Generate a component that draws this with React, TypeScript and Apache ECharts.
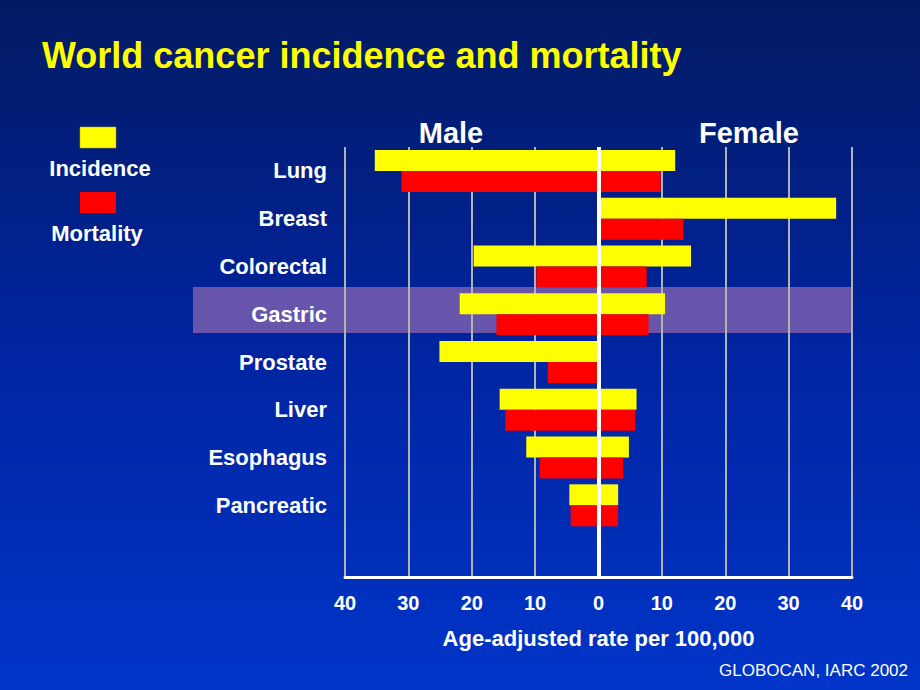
import React, { useEffect, useRef } from "react";
import * as echarts from "echarts";

// Categories (last empty slot leaves room above the axis, as in the slide)
const categories = ["Lung", "Breast", "Colorectal", "Gastric", "Prostate", "Liver", "Esophagus", "Pancreatic", ""];
// Age-adjusted rates per 100,000 (GLOBOCAN 2002)
const maleIncidence = [35.3, null, 19.7, 21.9, 25.1, 15.6, 11.4, 4.6, null];
const maleMortality = [31.1, null, 9.8, 16.1, 8.0, 14.7, 9.3, 4.4, null];
const femaleIncidence = [12.1, 37.5, 14.6, 10.5, null, 6.0, 4.8, 3.1, null];
const femaleMortality = [9.8, 13.4, 7.6, 7.9, null, 5.8, 3.9, 3.1, null];

const axisMin = -40;
const axisMax = 40;
const axisStep = 10;

const FONT = "'Liberation Sans', Arial, Helvetica, sans-serif";

export default function App() {
  const ref = useRef<HTMLDivElement>(null);

  useEffect(() => {
    if (!ref.current) return;
    const chart = echarts.init(ref.current, undefined, { renderer: "svg" });
    const neg = (arr: (number | null)[]) => arr.map((v) => (v == null ? null : -v));

    const option: any = {
      animation: false,
      backgroundColor: "transparent",
      textStyle: { fontFamily: FONT },
      grid: { left: 345, right: 68, top: 147, bottom: 113, containLabel: false },
      xAxis: {
        type: "value",
        min: axisMin,
        max: axisMax,
        interval: axisStep,
        axisLine: { show: true, onZero: false, lineStyle: { color: "#ffffff", width: 3 } },
        axisTick: { show: false },
        axisLabel: {
          color: "#ffffff",
          fontSize: 20,
          fontWeight: "bold",
          fontFamily: FONT,
          margin: 16,
          formatter: (v: number) => String(Math.abs(v)),
        },
        splitLine: { show: true, lineStyle: { color: "#b2b2b2", width: 2 } },
        name: "Age-adjusted rate per 100,000",
        nameLocation: "middle",
        nameGap: 50,
        nameTextStyle: { color: "#ffffff", fontSize: 22, fontWeight: "bold", fontFamily: FONT },
      },
      yAxis: {
        type: "category",
        inverse: true,
        data: categories,
        axisLine: { show: false },
        axisTick: { show: false },
        splitLine: { show: false },
        axisLabel: {
          color: "#ffffff",
          fontSize: 22,
          fontWeight: "bold",
          fontFamily: FONT,
          margin: 18,
        },
      },
      series: [
        {
          name: "Male incidence",
          type: "bar",
          stack: "inc",
          data: neg(maleIncidence),
          barWidth: 21,
          barGap: "0%",
          itemStyle: { color: "#ffff00" },
        },
        {
          name: "Male mortality",
          type: "bar",
          stack: "mort",
          data: neg(maleMortality),
          barWidth: 21,
          barGap: "0%",
          itemStyle: { color: "#ff0000" },
        },
        {
          name: "Female incidence",
          type: "bar",
          stack: "inc",
          data: femaleIncidence,
          barWidth: 21,
          barGap: "0%",
          itemStyle: { color: "#ffff00" },
        },
        {
          name: "Female mortality",
          type: "bar",
          stack: "mort",
          data: femaleMortality,
          barWidth: 21,
          barGap: "0%",
          itemStyle: { color: "#ff0000" },
          markLine: {
            silent: true,
            symbol: "none",
            label: { show: false },
            lineStyle: { color: "#ffffff", width: 4, type: "solid" },
            data: [{ xAxis: 0 }],
          },
        },
      ],
      graphic: [
        // highlight band behind "Gastric"
        { type: "rect", z: -10, shape: { x: 193, y: 287, width: 659, height: 46 }, style: { fill: "#6655aa" } },
        // title
        {
          type: "text",
          x: 42,
          y: 55,
          style: {
            text: "World cancer incidence and mortality",
            fill: "#ffff00",
            font: `bold 36px ${FONT}`,
            textVerticalAlign: "middle",
          },
        },
        // Male / Female headers
        {
          type: "text",
          x: 451,
          y: 133,
          style: { text: "Male", fill: "#ffffff", font: `bold 29px ${FONT}`, textAlign: "center", textVerticalAlign: "middle" },
        },
        {
          type: "text",
          x: 749,
          y: 133,
          style: { text: "Female", fill: "#ffffff", font: `bold 29px ${FONT}`, textAlign: "center", textVerticalAlign: "middle" },
        },
        // legend
        { type: "rect", shape: { x: 80, y: 127, width: 36, height: 21 }, style: { fill: "#ffff00", stroke: "#b3b300", lineWidth: 0.5 } },
        {
          type: "text",
          x: 100,
          y: 168,
          style: { text: "Incidence", fill: "#ffffff", font: `bold 22px ${FONT}`, textAlign: "center", textVerticalAlign: "middle" },
        },
        { type: "rect", shape: { x: 80, y: 192, width: 36, height: 21 }, style: { fill: "#ff0000" } },
        {
          type: "text",
          x: 97,
          y: 233,
          style: { text: "Mortality", fill: "#ffffff", font: `bold 22px ${FONT}`, textAlign: "center", textVerticalAlign: "middle" },
        },
        // source
        {
          type: "text",
          x: 908,
          y: 670,
          style: { text: "GLOBOCAN, IARC 2002", fill: "#ffffff", font: `17px ${FONT}`, textAlign: "right", textVerticalAlign: "middle" },
        },
      ],
    };

    chart.setOption(option);
    return () => chart.dispose();
  }, []);

  return (
    <div
      style={{
        position: "fixed",
        left: 0,
        top: 0,
        width: 920,
        height: 690,
        background: "linear-gradient(to bottom, #031a62 0%, #0024a0 50%, #0035c9 100%)",
      }}
    >
      <div ref={ref} style={{ width: 920, height: 690 }} />
    </div>
  );
}
